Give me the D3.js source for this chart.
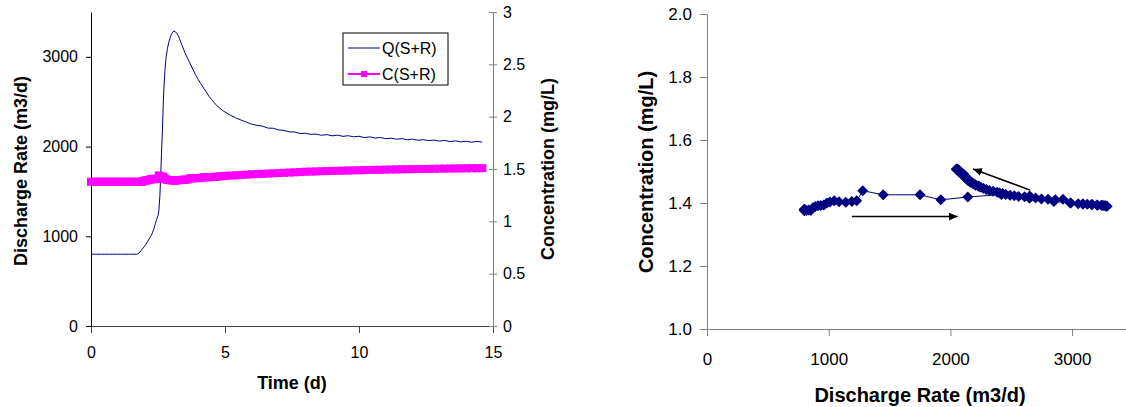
<!DOCTYPE html>
<html lang="en">
<head>
<meta charset="UTF-8">
<title>Discharge rate and concentration</title>
<script src="https://cdn.jsdelivr.net/npm/d3@7"></script>
<style>
    body { margin: 0; background: #fff; }
    svg { display: block; font-family: "Liberation Sans", Arial, sans-serif; }
</style>
</head>
<body>
<svg id="chart" width="1126" height="407"></svg>
<script>
    // Readings taken off the original figure
    const days = [
        0, 0.1, 0.2, 0.3, 0.4, 0.5, 0.6, 0.7, 0.8, 0.9, 1.0, 1.1, 1.2, 1.3, 1.4, 1.5, 1.6, 1.7,
        1.75, 1.8, 1.85, 1.9, 1.95, 2.0, 2.05, 2.1, 2.15, 2.2, 2.25, 2.3, 2.35, 2.4, 2.45, 2.5,
        2.53, 2.57, 2.61, 2.63, 2.66, 2.69, 2.72, 2.76, 2.8, 2.85, 2.9, 2.95, 3.0, 3.05, 3.1, 3.15, 3.2,
        3.25, 3.3, 3.35, 3.4, 3.45, 3.5,
        3.6, 3.7, 3.8, 3.9, 4.0, 4.1, 4.2, 4.3, 4.4, 4.5, 4.6, 4.7, 4.8, 4.9, 5.0,
        5.2, 5.4, 5.6, 5.8, 6.0, 6.2, 6.4, 6.6, 6.8, 7.0, 7.2, 7.4, 7.6, 7.8, 8.0, 8.2,
        8.4, 8.6, 8.8, 9.0, 9.2, 9.4, 9.6, 9.8, 10.0, 10.2, 10.4, 10.6, 10.8, 11.0, 11.2,
        11.4, 11.6, 11.8, 12.0, 12.2, 12.4, 12.6, 12.8, 13.0, 13.2, 13.4, 13.6, 13.8, 14.0,
        14.2, 14.4, 14.6
    ];

    // Q(S+R), m3/d
    const dischargeQ = [
        800, 800, 800, 800, 800, 800, 800, 800, 800, 800, 800, 800, 800, 800, 800, 800, 800, 800,
        805, 815, 835, 852, 870, 890, 912, 935, 960, 985, 1010, 1045, 1085, 1140, 1190, 1230,
        1280, 1448, 1750, 1921, 2143, 2420, 2650, 2850, 2990, 3090, 3160, 3210, 3250, 3275, 3288, 3280, 3262,
        3240, 3205, 3165, 3125, 3088, 3050,
        2985, 2925, 2862, 2802, 2748, 2700, 2652, 2610, 2560, 2525, 2490, 2455, 2430, 2405, 2385,
        2350, 2320, 2295, 2272, 2250, 2236, 2228, 2206, 2204, 2186, 2180, 2164, 2162, 2146, 2148, 2136,
        2139, 2126, 2133, 2120, 2127, 2114, 2121, 2109, 2115, 2100, 2108, 2095, 2101, 2088, 2094,
        2082, 2089, 2076, 2083, 2070, 2077, 2066, 2072, 2061, 2068, 2056, 2064, 2052, 2060,
        2049, 2057, 2050
    ];

    // C(S+R), mg/L
    const concC = [
        1.378, 1.379, 1.377, 1.378, 1.378, 1.379, 1.378, 1.377, 1.378, 1.379, 1.378, 1.378, 1.377, 1.378, 1.379, 1.378, 1.378, 1.377,
        1.378, 1.376, 1.378, 1.376, 1.385, 1.389, 1.391, 1.392, 1.394, 1.400, 1.403, 1.407, 1.404, 1.402, 1.405, 1.407,
        1.439, 1.426, 1.426, 1.410, 1.419, 1.427, 1.415, 1.405, 1.400, 1.397, 1.395, 1.393, 1.392, 1.391, 1.390, 1.390, 1.392,
        1.393, 1.394, 1.395, 1.396, 1.397, 1.398,
        1.400, 1.412, 1.410, 1.412, 1.413, 1.416, 1.422, 1.420, 1.421, 1.423, 1.425, 1.427, 1.430, 1.432, 1.434,
        1.437, 1.440, 1.443, 1.446, 1.450, 1.452, 1.454, 1.456, 1.459, 1.461, 1.464, 1.466, 1.468, 1.471, 1.474, 1.475,
        1.477, 1.479, 1.480, 1.482, 1.483, 1.484, 1.486, 1.487, 1.488, 1.490, 1.491, 1.492, 1.493, 1.494, 1.495,
        1.496, 1.497, 1.498, 1.499, 1.500, 1.500, 1.501, 1.502, 1.503, 1.504, 1.504, 1.505, 1.506, 1.506,
        1.507, 1.507, 1.508
    ];

    const timeTicks = [0, 5, 10, 15];
    const qTicks = [0, 1000, 2000, 3000];
    const cTicks = [0, 0.5, 1, 1.5, 2, 2.5, 3];
    const scatterXTicks = [0, 1000, 2000, 3000];
    const scatterYTicks = [1.0, 1.2, 1.4, 1.6, 1.8, 2.0];

    // arrow annotations on the scatter, in data units [Q, C]
    const arrowRising = [[1190, 1.357], [2060, 1.357]];
    const arrowFalling = [[2655, 1.441], [2185, 1.508]];

    const rows = days.map((t, i) => ({ t: t, q: dischargeQ[i], c: concC[i] }));

    const NAVY = "#000080", MAGENTA = "#FF00FF";
    const svg = d3.select("#chart");

    svg.append("defs").append("marker")
        .attr("id", "arrowhead")
        .attr("markerUnits", "userSpaceOnUse")
        .attr("markerWidth", 10).attr("markerHeight", 8)
        .attr("refX", 9).attr("refY", 4)
        .attr("orient", "auto")
        .append("path")
        .attr("d", "M0,0L9,4L0,8Z")
        .attr("fill", "#000");

    function styleAxis(g, size, stroke) {
        g.attr("font-family", null).attr("font-size", size);
        g.select(".domain").attr("stroke", stroke);
        g.selectAll(".tick line").attr("stroke", stroke);
        g.selectAll(".tick text").attr("fill", "#000");
    }

    // ---------- left chart: time series ----------
    const xT = d3.scaleLinear().domain([0, 15]).range([91, 493]);
    const yQ = d3.scaleLinear().domain([0, 3500]).range([326, 12]);
    const yC = d3.scaleLinear().domain([0, 3]).range([326, 12]);

    const left = svg.append("g");

    left.append("g")
        .attr("transform", `translate(0,${yQ(0)})`)
        .call(d3.axisBottom(xT).tickValues(timeTicks).tickSize(7).tickPadding(14).tickSizeOuter(0))
        .call(g => styleAxis(g, 16, "#444"));

    left.append("g")
        .attr("transform", `translate(${xT(15)},0)`)
        .call(d3.axisRight(yC).tickValues(cTicks).tickSize(4).tickPadding(6).tickSizeOuter(0)
            .tickFormat(d3.format("")))
        .call(g => styleAxis(g, 16, "#808080"))
        .call(g => g.selectAll(".tick line").attr("x1", -4));

    left.append("g")
        .attr("transform", `translate(${xT(0)},0)`)
        .call(d3.axisLeft(yQ).tickValues(qTicks).tickSize(5).tickPadding(8).tickSizeOuter(0)
            .tickFormat(d3.format("d")))
        .call(g => styleAxis(g, 16, "#000"));

    left.append("path")
        .datum(rows)
        .attr("fill", "none")
        .attr("stroke", NAVY)
        .attr("stroke-width", 1)
        .attr("d", d3.line().x(d => xT(d.t)).y(d => yQ(d.q)));

    left.append("path")
        .datum(rows)
        .attr("fill", "none")
        .attr("stroke", MAGENTA)
        .attr("stroke-width", 2)
        .attr("d", d3.line().x(d => xT(d.t)).y(d => yC(d.c)));

    left.append("g").selectAll("rect")
        .data(rows)
        .join("rect")
        .attr("x", d => xT(d.t) - 4)
        .attr("y", d => yC(d.c) - 4)
        .attr("width", 8).attr("height", 8)
        .attr("fill", MAGENTA);

    // legend
    const legend = left.append("g").attr("transform", "translate(343,33)");
    legend.append("rect")
        .attr("width", 105).attr("height", 52)
        .attr("fill", "#fff").attr("stroke", "#000");
    const legendItems = [
        { label: "Q(S+R)", color: NAVY, marker: false },
        { label: "C(S+R)", color: MAGENTA, marker: true }
    ];
    const li = legend.selectAll(".item")
        .data(legendItems)
        .join("g")
        .attr("class", "item")
        .attr("transform", (d, i) => `translate(0,${15 + i * 26})`);
    li.append("line")
        .attr("x1", 5).attr("x2", 37)
        .attr("stroke", d => d.color)
        .attr("stroke-width", d => d.marker ? 2 : 1);
    li.filter(d => d.marker).append("rect")
        .attr("x", 18).attr("y", -3).attr("width", 6).attr("height", 6)
        .attr("fill", d => d.color);
    li.append("text")
        .attr("x", 39).attr("y", 6)
        .attr("font-size", 16)
        .text(d => d.label);

    // titles
    left.append("text")
        .attr("transform", "translate(21,171) rotate(-90)")
        .attr("text-anchor", "middle").attr("dy", "0.35em")
        .attr("font-size", 18).attr("font-weight", "bold")
        .text("Discharge Rate (m3/d)");
    left.append("text")
        .attr("transform", "translate(548,169) rotate(-90)")
        .attr("text-anchor", "middle").attr("dy", "0.35em")
        .attr("font-size", 18).attr("font-weight", "bold")
        .text("Concentration (mg/L)");
    left.append("text")
        .attr("x", (xT(0) + xT(15)) / 2).attr("y", 389)
        .attr("text-anchor", "middle")
        .attr("font-size", 18).attr("font-weight", "bold")
        .text("Time (d)");

    // ---------- right chart: C against Q ----------
    const xR = d3.scaleLinear().domain([0, 3500]).range([707, 707 + 3.5 * 121.7]);
    const yR = d3.scaleLinear().domain([1, 2]).range([329, 14]);

    const right = svg.append("g");

    right.append("g")
        .attr("transform", `translate(0,${yR(1)})`)
        .call(d3.axisBottom(xR).tickValues(scatterXTicks).tickSize(7).tickPadding(17).tickSizeOuter(0)
            .tickFormat(d3.format("d")))
        .call(g => styleAxis(g, 17, "#808080"));

    right.append("g")
        .attr("transform", `translate(${xR(0)},0)`)
        .call(d3.axisLeft(yR).tickValues(scatterYTicks).tickSize(7).tickPadding(8).tickSizeOuter(0)
            .tickFormat(d3.format(".1f")))
        .call(g => styleAxis(g, 17, "#808080"));

    right.append("path")
        .datum(rows)
        .attr("fill", "none")
        .attr("stroke", NAVY)
        .attr("stroke-width", 1)
        .attr("d", d3.line().x(d => xR(d.q)).y(d => yR(d.c)));

    right.append("g").selectAll("path")
        .data(rows)
        .join("path")
        .attr("transform", d => `translate(${xR(d.q)},${yR(d.c)})`)
        .attr("d", "M0,-5.5L5.5,0L0,5.5L-5.5,0Z")
        .attr("fill", NAVY);

    [arrowRising, arrowFalling].forEach(a => {
        right.append("line")
            .attr("x1", xR(a[0][0])).attr("y1", yR(a[0][1]))
            .attr("x2", xR(a[1][0])).attr("y2", yR(a[1][1]))
            .attr("stroke", "#000").attr("stroke-width", 1.5)
            .attr("marker-end", "url(#arrowhead)");
    });

    right.append("text")
        .attr("transform", "translate(646,172) rotate(-90)")
        .attr("text-anchor", "middle").attr("dy", "0.35em")
        .attr("font-size", 20).attr("font-weight", "bold")
        .text("Concentration (mg/L)");
    right.append("text")
        .attr("x", 920).attr("y", 402)
        .attr("text-anchor", "middle")
        .attr("font-size", 20).attr("font-weight", "bold")
        .text("Discharge Rate (m3/d)");
</script>
</body>
</html>
